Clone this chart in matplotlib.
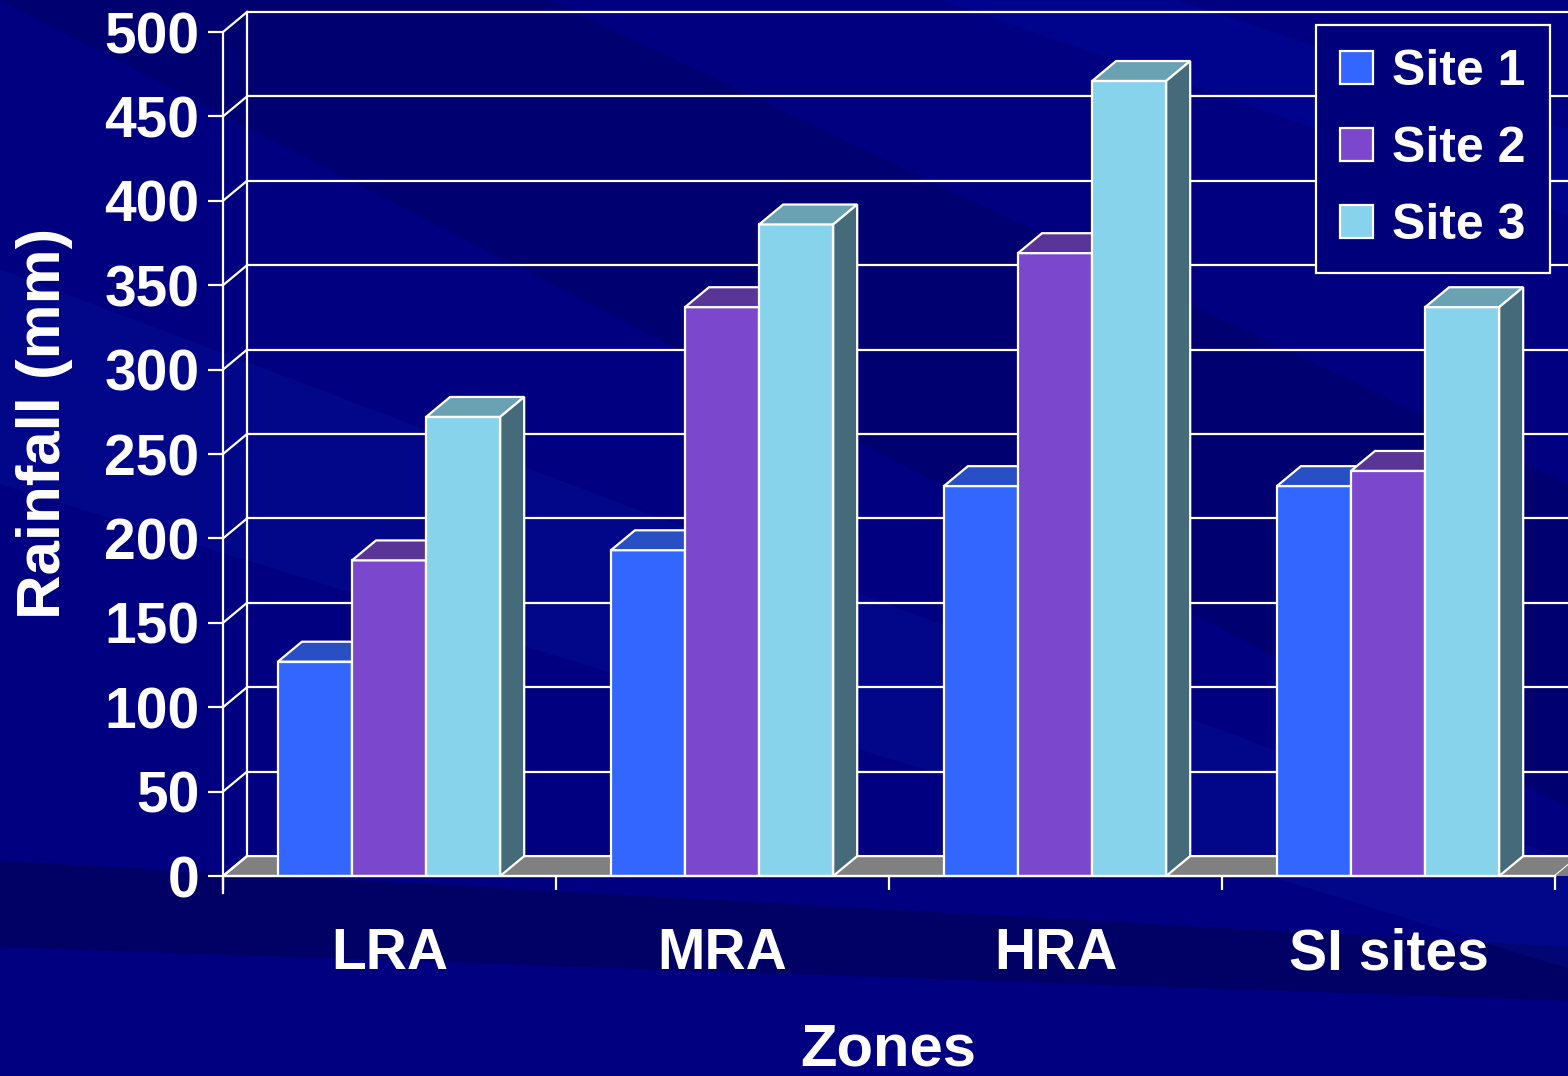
import numpy as np
import matplotlib
matplotlib.use("Agg")
from matplotlib import pyplot as plt
from matplotlib.patches import Polygon, Patch

plt.rcParams['font.family'] = ['Liberation Sans', 'DejaVu Sans']
plt.rcParams['font.weight'] = 'bold'

zones = ['LRA', 'MRA', 'HRA', 'SI sites']
site1 = [127, 193, 231, 231]
site2 = [187, 337, 369, 240]
site3 = [272, 386, 471, 337]
sites = ['Site 1', 'Site 2', 'Site 3']

front = ['#3366FF', '#7B47CC', '#87D3EC']
top = ['#2850C4', '#5A3598', '#6AA2B4']
side = ['#24419E', '#4A2B80', '#456B7A']
navy = '#000080'

DX = 0.072   # depth offset in category units
DY = 11.8    # depth offset in mm units
W = 0.2225
X0 = 0.165

fig = plt.figure(figsize=(15.68, 10.76), dpi=100)
fig.patch.set_facecolor(navy)

# background streaks
bg = fig.add_axes([0, 0, 1, 1])
bg.set_xlim(0, 1)
bg.set_ylim(0, 1)
bg.axis('off')
bg.add_patch(Polygon([[0, 1], [0.35, 1], [1, 0.55], [1, 0.25]], closed=True,
                     color='#00005E', alpha=0.45, lw=0))
bg.add_patch(Polygon([[0, 0.2], [0, 0.12], [1, 0.07], [1, 0.12]], closed=True,
                     color='#00005A', alpha=0.7, lw=0))
bg.add_patch(Polygon([[0, 0.75], [0, 0.55], [1, 0.1], [1, 0.2]], closed=True,
                     color='#0A1AA0', alpha=0.25, lw=0))
bg.add_patch(Polygon([[0.6, 1], [0.75, 1], [1, 0.88], [1, 0.8]], closed=True,
                     color='#0010A8', alpha=0.3, lw=0))

ax = fig.add_axes([223 / 1568, 200 / 1076, 1345 / 1568, 876 / 1076])
ax.set_facecolor('none')
ax.set_xlim(0, 1345 / 333)
ax.set_ylim(0, 876 / 1.688)

lw = 1.6
wc = 'white'
xmax = 4.2
yticks = np.arange(0, 501, 50)

# floor
ax.add_patch(Polygon([[0, 0], [4, 0], [4 + DX, DY], [DX + 0, DY]], closed=True,
                     facecolor='#808080', edgecolor=wc, lw=lw, zorder=1, clip_on=False))
ax.add_patch(Polygon([[4, 0], [xmax, 0], [xmax, DY], [4 + DX, DY]], closed=True,
                     facecolor='#808080', edgecolor='none', lw=0, zorder=1))
# back wall grid
for v in yticks:
    ax.plot([0, DX], [v, v + DY], color=wc, lw=lw, zorder=2, clip_on=False)
    if v > 0:
        ax.plot([DX, xmax], [v + DY, v + DY], color=wc, lw=lw, zorder=2)
ax.plot([DX, DX], [DY, 500 + DY], color=wc, lw=lw, zorder=2)

# bars
vals = [site1, site2, site3]
for i in range(len(zones)):
    for k in range(3):
        x = i + X0 + k * W
        h = vals[k][i]
        ax.add_patch(Polygon([[x, 0], [x + W, 0], [x + W, h], [x, h]], closed=True,
                             facecolor=front[k], edgecolor=wc, lw=lw, zorder=3 + k))
        ax.add_patch(Polygon([[x, h], [x + W, h], [x + W + DX, h + DY], [x + DX, h + DY]],
                             closed=True, facecolor=top[k], edgecolor=wc, lw=lw, zorder=3 + k))
        ax.add_patch(Polygon([[x + W, 0], [x + W + DX, DY], [x + W + DX, h + DY], [x + W, h]],
                             closed=True, facecolor=side[k], edgecolor=wc, lw=lw, zorder=3 + k))

# axes
for s in ['top', 'right']:
    ax.spines[s].set_visible(False)
ax.spines['left'].set_color(wc)
ax.spines['left'].set_linewidth(lw)
ax.spines['left'].set_bounds(-10, 500)
ax.spines['bottom'].set_color(wc)
ax.spines['bottom'].set_linewidth(lw)
ax.spines['bottom'].set_bounds(0, 4)
ax.spines['left'].set_zorder(10)
ax.spines['bottom'].set_zorder(10)

ax.set_yticks(yticks)
ax.tick_params(axis='y', colors=wc, length=11, width=lw, pad=6, labelsize=41)
ax.set_xticks([0, 1, 2, 3, 4])
ax.set_xticklabels([])
ax.set_xticks([0.5, 1.5, 2.5, 3.5], minor=True)
ax.set_xticklabels(zones, minor=True)
ax.tick_params(axis='x', which='major', colors=wc, length=10, width=lw)
ax.tick_params(axis='x', which='minor', colors=wc, length=0, pad=37, labelsize=41)
for t in ax.get_yticklabels() + ax.get_xticklabels(minor=True):
    t.set_fontweight('bold')

fig.text(45 / 1568, 1 - 423 / 1076, 'Rainfall (mm)', rotation=90, color=wc,
         fontsize=44.5, fontweight='bold', ha='center', va='center')
fig.text(888 / 1568, 1 - 1050 / 1076, 'Zones', color=wc,
         fontsize=43, fontweight='bold', ha='center', va='center')

handles = [Patch(facecolor=front[k], edgecolor=wc, lw=lw) for k in range(3)]
leg = fig.legend(handles, sites, loc='upper right',
                 bbox_to_anchor=(1550 / 1568, 1 - 25 / 1076),
                 fontsize=36, frameon=True, fancybox=False, handlelength=0.65,
                 handleheight=0.65, handletextpad=0.4, labelspacing=0.62,
                 borderpad=0.48, borderaxespad=0)
leg.get_frame().set_facecolor('#00007A')
leg.get_frame().set_edgecolor(wc)
leg.get_frame().set_linewidth(lw)
leg.get_frame().set_alpha(1)
for t in leg.get_texts():
    t.set_color(wc)
    t.set_fontweight('bold')

fig.savefig('out.png', dpi=100, facecolor=fig.get_facecolor())
